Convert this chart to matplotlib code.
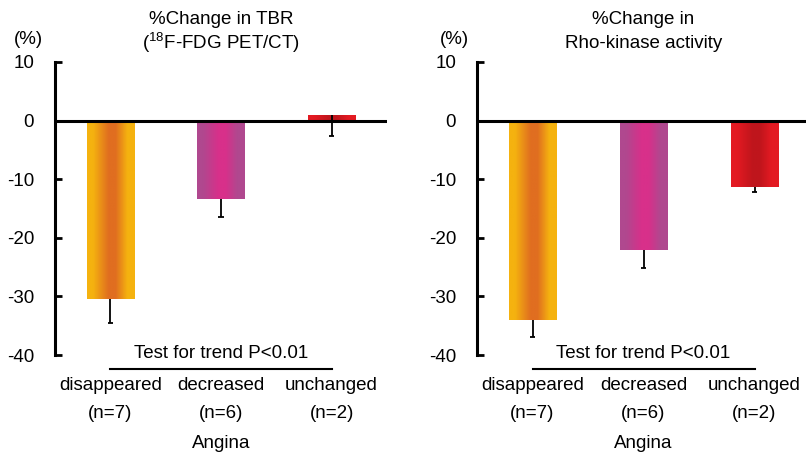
import numpy as np
import matplotlib
matplotlib.use("Agg")
from matplotlib import pyplot as plt
from matplotlib.colors import LinearSegmentedColormap
from matplotlib import transforms

plt.rcParams['font.family'] = ['Liberation Sans', 'DejaVu Sans']
plt.rcParams['axes.unicode_minus'] = False
plt.rcParams['mathtext.fontset'] = 'custom'
plt.rcParams['mathtext.rm'] = 'Liberation Sans'

categories = ["disappeared", "decreased", "unchanged"]
counts = ["(n=7)", "(n=6)", "(n=2)"]
xlabel = "Angina"
trend_text = "Test for trend P<0.01"

tbr_values = [-30.5, -13.3, 1.0]
tbr_err = [4.0, 3.2, 3.7]
rho_values = [-34.1, -22.0, -11.4]
rho_err = [2.9, 3.2, 0.8]

titles = [("%Change in TBR", r"($^{\mathrm{18}}$F-FDG PET/CT)"),
          ("%Change in", "Rho-kinase activity")]

# edge colour, centre colour for each bar's horizontal gradient
bar_colors = [("#f5b20f", "#e06e20"), ("#b0488f", "#d8308a"), ("#e31a22", "#bf151c")]

FS = 13.5
W, H = 806, 454

fig = plt.figure(figsize=(W / 100, H / 100), dpi=100)


def px(x0, y0, x1, y1):
    return [x0 / W, 1 - y1 / H, (x1 - x0) / W, (y1 - y0) / H]


def draw_panel(rect, values, errs, title):
    ax = fig.add_axes(rect)
    x = np.arange(len(values))
    bars = ax.bar(x, values, width=0.43, color="none", edgecolor="none", zorder=2)
    for b, (ce, cc) in zip(bars, bar_colors):
        cmap = LinearSegmentedColormap.from_list(
            "g", [(0, ce), (0.12, ce), (0.45, cc), (0.6, cc), (0.85, ce), (1, ce)])
        grad = np.linspace(0, 1, 64).reshape(1, -1)
        x0, y0 = b.get_x(), b.get_y()
        im = ax.imshow(grad, cmap=cmap, aspect="auto", zorder=2,
                       extent=[x0, x0 + b.get_width(), y0, y0 + b.get_height()])
        im.set_clip_path(b)
    lows = np.array(values) - np.array(errs)
    ax.vlines(x, lows, values, color="black", lw=1.3, zorder=3)
    ax.hlines(lows, x - 0.025, x + 0.025, color="black", lw=1.3, zorder=3)
    ax.axhline(0, color="black", lw=2.2, zorder=4)
    ax.set_xlim(-0.5, 2.5)
    ax.set_ylim(-40, 10)
    ax.set_yticks([10, 0, -10, -20, -30, -40])
    ax.tick_params(axis="y", direction="in", length=5, width=2, pad=15, labelsize=FS)
    ax.set_xticks([])
    for s in ["top", "right", "bottom"]:
        ax.spines[s].set_visible(False)
    ax.spines["left"].set_linewidth(2.2)
    ax.set_facecolor("none")

    tr = transforms.blended_transform_factory(ax.transData, fig.transFigure)
    ax.text(1, 1 - 20 / H, title[0], transform=tr, ha="center", va="center", fontsize=FS)
    ax.text(1, 1 - 43 / H, title[1], transform=tr, ha="center", va="center", fontsize=FS)
    ax.text(1, 1 - 353 / H, trend_text, transform=tr, ha="center", va="center", fontsize=FS)
    ax.plot([0, 2], [1 - 368.5 / H] * 2, transform=tr, color="black", lw=1.5, clip_on=False)
    for i, (c, n) in enumerate(zip(categories, counts)):
        ax.text(i, 1 - 385 / H, c, transform=tr, ha="center", va="center", fontsize=FS)
        ax.text(i, 1 - 413 / H, n, transform=tr, ha="center", va="center", fontsize=FS)
    ax.text(1, 1 - 444 / H, xlabel, transform=tr, ha="center", va="center", fontsize=FS)
    return ax


ax1 = draw_panel(px(55, 62, 387, 355), tbr_values, tbr_err, titles[0])
ax2 = draw_panel(px(477, 62, 810, 355), rho_values, rho_err, titles[1])

fig.text(28 / W, 1 - 40 / H, "(%)", ha="center", va="center", fontsize=FS)
fig.text(454 / W, 1 - 40 / H, "(%)", ha="center", va="center", fontsize=FS)

fig.savefig("out.png", dpi=100)
